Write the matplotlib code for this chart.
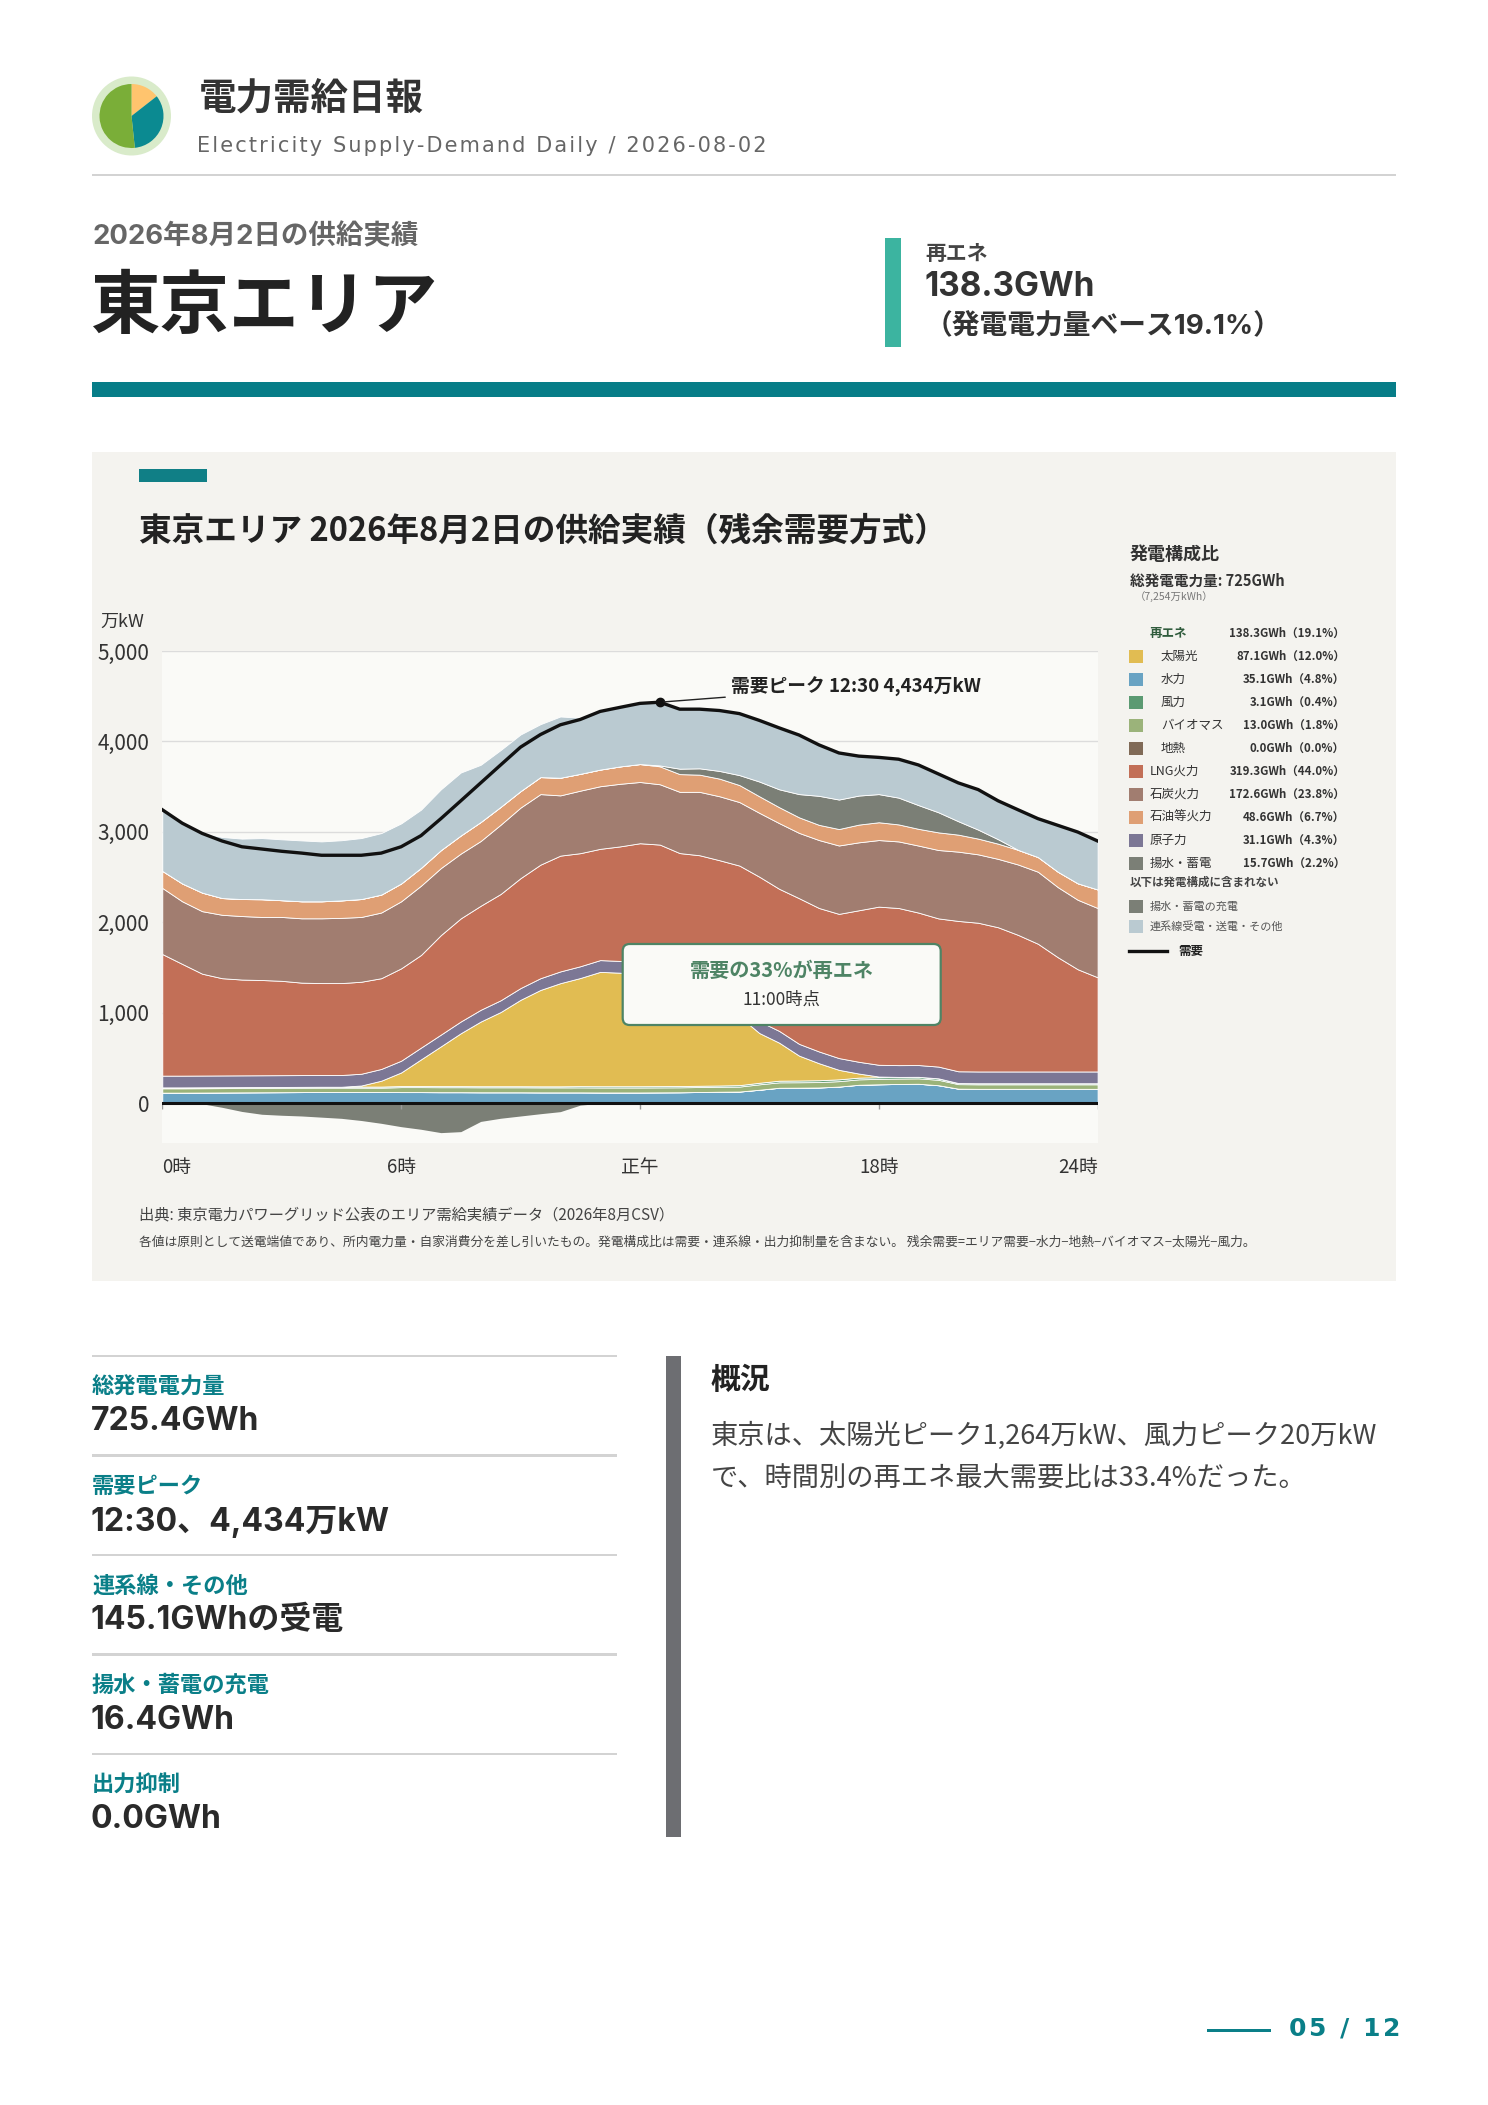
import numpy as np
import matplotlib
matplotlib.use("Agg")
import matplotlib.pyplot as plt
from matplotlib.patches import Rectangle, Wedge, Circle, FancyBboxPatch
from matplotlib.transforms import Affine2D
from matplotlib.lines import Line2D

plt.rcParams['font.family'] = ['Noto Sans CJK JP', 'DejaVu Sans']
LATIN_JP = ['Inter', 'Noto Sans CJK JP', 'DejaVu Sans']

# 30-minute slots, 0:00 .. 23:30 (万kW)
slots = np.arange(48)

demand = [3245, 3097, 2984, 2900, 2836, 2811, 2786, 2766, 2742, 2742,
          2742, 2766, 2836, 2959, 3147, 3344, 3542, 3740, 3937, 4076,
          4184, 4243, 4332, 4377, 4421, 4434, 4357, 4357, 4342, 4308,
          4233, 4150, 4071, 3962, 3873, 3838, 3824, 3804, 3740, 3641,
          3542, 3468, 3344, 3245, 3147, 3073, 2999, 2900]

hydro = [118, 118, 119, 120, 121, 122, 123, 124, 125, 125,
         125, 125, 124, 124, 123, 123, 122, 122, 122, 121,
         121, 121, 120, 120, 120, 121, 122, 125, 128, 130,
         150, 172, 173, 175, 185, 205, 210, 214, 216, 200,
         162, 160, 160, 160, 160, 160, 160, 160]

geothermal = [0, 0, 0, 0, 0, 0, 0, 0, 0, 0, 0, 0, 0, 0, 0, 0,
              0, 0, 0, 0, 0, 0, 0, 0, 0, 0, 0, 0, 0, 0, 0, 0,
              0, 0, 0, 0, 0, 0, 0, 0, 0, 0, 0, 0, 0, 0, 0, 0]

biomass = [48, 48, 48, 48, 48, 48, 48, 48, 48, 48,
           48, 48, 55, 55, 55, 55, 55, 55, 55, 55,
           55, 55, 55, 55, 55, 55, 55, 55, 55, 55,
           60, 60, 60, 60, 60, 60, 60, 60, 60, 60,
           50, 50, 50, 50, 50, 50, 50, 50]

wind = [10, 10, 10, 10, 10, 10, 10, 10, 10, 10,
        12, 12, 12, 12, 12, 12, 12, 12, 12, 12,
        12, 14, 14, 14, 14, 14, 14, 14, 14, 16,
        17, 18, 19, 20, 20, 19, 18, 18, 17, 16,
        12, 12, 12, 12, 12, 12, 12, 12]

solar = [0, 0, 0, 0, 0, 0, 0, 0, 0, 0,
         12, 65, 150, 295, 440, 585, 715, 820, 955, 1065,
         1140, 1195, 1264, 1255, 1240, 1210, 1160, 1080, 960, 760,
         550, 420, 275, 188, 105, 45, 8, 0, 0, 0,
         0, 0, 0, 0, 0, 0, 0, 0]

nuclear = [130, 130, 130, 130, 130, 130, 130, 130, 130, 130,
           130, 130, 130, 130, 130, 130, 130, 130, 130, 130,
           130, 130, 130, 130, 130, 130, 130, 130, 130, 130,
           130, 130, 130, 130, 130, 130, 130, 130, 130, 130,
           130, 130, 130, 130, 130, 130, 130, 130]

lng = [1344, 1235, 1126, 1075, 1059, 1053, 1043, 1022, 1016, 1016,
       1017, 1003, 1021, 1024, 1100, 1140, 1150, 1175, 1215, 1255,
       1280, 1250, 1230, 1266, 1316, 1330, 1285, 1338, 1400, 1537,
       1598, 1571, 1610, 1586, 1594, 1675, 1748, 1737, 1685, 1638,
       1662, 1644, 1594, 1510, 1412, 1263, 1130, 1041]

coal = [731, 692, 691, 701, 702, 697, 706, 711, 716, 721,
        716, 726, 741, 766, 741, 716, 716, 766, 780, 780,
        666, 691, 692, 692, 677, 667, 677, 701, 707, 702,
        706, 726, 722, 751, 756, 751, 736, 736, 741, 756,
        766, 756, 756, 778, 796, 775, 768, 766]

oil = [188, 197, 205, 185, 188, 196, 185, 188, 188, 193,
       198, 198, 197, 197, 198, 200, 210, 197, 182, 188,
       195, 186, 184, 192, 198, 198, 196, 190, 195, 188,
       183, 176, 172, 168, 182, 196, 197, 188, 185, 195,
       188, 174, 168, 162, 162, 170, 182, 205]

pumped = [0, 0, 0, 0, 0, 0, 0, 0, 0, 0, 0, 0, 0, 0, 0, 0,
          0, 0, 0, 0, 0, 0, 0, 0, 0, 10, 60, 70, 85, 110, 163, 198,
          257, 321, 326, 321, 311, 296, 262, 222, 148, 99, 49, 0, 0, 0, 0, 0]

interconnect = [676, 667, 660, 675, 668, 676, 673, 673, 662, 665,
                674, 680, 664, 643, 672, 696, 632, 628, 626, 585,
                677, 621, 643, 653, 671, 699, 658, 654, 668, 680,
                676, 679, 653, 563, 515, 436, 406, 425, 443, 423,
                420, 443, 425, 443, 425, 513, 567, 536]

charge = [0, 0, 5, 44, 90, 121, 132, 140, 153, 166, 190, 221, 258, 287, 324, 313,
          200, 165, 140, 115, 92, 20, 0, 0, 0, 0, 0, 0, 0, 0, 0, 0,
          0, 0, 0, 0, 0, 0, 0, 0, 0, 0, 0, 0, 0, 0, 0, 0]

layer_colors = ['#69A3C3', '#806A57', '#9BB37A', '#5B9A72', '#E1BC52', '#7C7795',
                '#C26F57', '#A17D70', '#DF9F74', '#7B7F76', '#BACAD1']
charge_color = '#7B7F76'

xtick_pos = [0, 12, 24, 36, 47]
xtick_labels = ['0時', '6時', '正午', '18時', '24時']
yticks = [0, 1000, 2000, 3000, 4000, 5000]

legend_names = ['太陽光', '水力', '風力', 'バイオマス', '地熱',
                'LNG火力', '石炭火力', '石油等火力', '原子力', '揚水・蓄電']
legend_gwh = [87.1, 35.1, 3.1, 13.0, 0.0, 319.3, 172.6, 48.6, 31.1, 15.7]
legend_colors = ['#E1BC52', '#69A3C3', '#5B9A72', '#9BB37A', '#806A57',
                 '#C26F57', '#A17D70', '#DF9F74', '#7C7795', '#7B7F76']
legend_sub = [True, True, True, True, True, False, False, False, False, False]
total_gwh = 725.4
renew_gwh = 138.3

stat_labels = ['総発電電力量', '需要ピーク', '連系線・その他', '揚水・蓄電の充電', '出力抑制']
stat_values = ['725.4GWh', '12:30、4,434万kW', '145.1GWhの受電', '16.4GWh', '0.0GWh']

summary = ['東京は、太陽光ピーク1,264万kW、風力ピーク20万kW',
           'で、時間別の再エネ最大需要比は33.4%だった。']

TEAL = '#0A7F88'

W, H = 1488, 2105
fig = plt.figure(figsize=(W / 100, H / 100), dpi=100, facecolor='white')
# page pixel coordinates, origin top-left
PX = Affine2D().scale(0.01).scale(1, -1).translate(0, H / 100) + fig.dpi_scale_trans


def text(x, y, s, size, color='#333333', bold=False, ha='left', va='center', z=3, **kw):
    fig.text(x, y, s, transform=PX, fontsize=size, color=color,
             fontweight='bold' if bold else 'normal', ha=ha, va=va, zorder=z, **kw)


def rect(x0, y0, x1, y1, color, z=1):
    fig.add_artist(Rectangle((x0, y0), x1 - x0, y1 - y0, transform=PX,
                             facecolor=color, edgecolor='none', zorder=z))


def spaced(s):
    # loose letter spacing with hair spaces
    return '\u200a'.join(s)


# ---- header ----
fig.add_artist(Circle((131.5, 116), 39.5, transform=PX, facecolor='#D9EBCA', edgecolor='none'))
fig.add_artist(Wedge((131.5, 116), 32, -90, -38, transform=PX, facecolor='#FFC46E', edgecolor='none'))
fig.add_artist(Wedge((131.5, 116), 32, -38, 84, transform=PX, facecolor='#0B8A91', edgecolor='none'))
fig.add_artist(Wedge((131.5, 116), 32, 84, 270, transform=PX, facecolor='#7AAE38', edgecolor='none'))
text(199, 98, '電力需給日報', 27, '#333333', bold=True)
text(197, 146, spaced('Electricity Supply-Demand Daily / 2026-08-02'), 15, '#666666',
     family='DejaVu Sans')
rect(92, 173.5, 1396, 176, '#D3D3D3')

text(92, 237, '2026年8月2日の供給実績', 19.8, '#666666', bold=True, family=LATIN_JP)
text(90, 308, '東京エリア', 50, '#222222', bold=True)
rect(885, 238, 901, 347, '#3CB4A0')
text(925, 254, '再エネ', 15, '#444444', bold=True)
text(925, 287, f'{renew_gwh}GWh', 24, '#333333', bold=True, family=LATIN_JP)
text(925, 327, f'（発電電力量ベース{renew_gwh / total_gwh * 100:.1f}%）', 20, '#333333', bold=True,
     family=LATIN_JP)
rect(92, 382, 1396, 397, '#077D88')

# ---- chart panel ----
rect(92, 452, 1396, 1281, '#F4F3EF', z=-1)
rect(139, 469, 207, 482, '#107F86')
text(139, 531, '東京エリア 2026年8月2日の供給実績（残余需要方式）', 23.5, '#222222', bold=True)
text(100, 622, '万kW', 13, '#333333')

ax = fig.add_axes([162.3 / W, 1 - 1143.3 / H, 935.3 / W, 492.3 / H])
ax.set_facecolor('#FAFAF7')
layers = [hydro, geothermal, biomass, wind, solar, nuclear, lng, coal, oil, pumped, interconnect]
ax.stackplot(slots, *layers, colors=layer_colors, edgecolor='white', linewidth=0.6, zorder=2)
ax.fill_between(slots, 0, -np.array(charge), color=charge_color, lw=0, zorder=2)
ax.axhline(0, color='#111111', lw=2.2, zorder=4)
ax.plot(slots, demand, color='#111111', lw=2.4, zorder=5)
ax.vlines(xtick_pos, -66, 0, color='#9A9A9A', lw=1, zorder=3)

peak_i = int(np.argmax(demand))
ax.plot(peak_i, demand[peak_i], 'o', color='#111111', ms=6, zorder=6)
ax.annotate(f'需要ピーク {peak_i // 2}:{(peak_i % 2) * 30:02d} {demand[peak_i]:,}万kW',
            xy=(peak_i, demand[peak_i]), xytext=(71, 15), textcoords='offset pixels',
            ha='left', va='center', fontsize=13.5, fontweight='bold', color='#222222',
            arrowprops=dict(arrowstyle='-', color='#222222', lw=1, shrinkA=2, shrinkB=3), zorder=7)

ax.set_xlim(0, 47)
ax.set_ylim(-442, 5000)
ax.set_yticks(yticks)
ax.set_yticklabels([f'{v:,}' for v in yticks])
ax.yaxis.grid(True, color='#DCDCDC', lw=1)
ax.set_axisbelow(True)
ax.set_xticks(xtick_pos)
ax.set_xticklabels(xtick_labels)
ax.tick_params(axis='y', length=0, pad=9.5, labelsize=15, labelcolor='#333333')
ax.tick_params(axis='x', length=0, pad=10, labelsize=13.5, labelcolor='#333333')
xl = ax.get_xticklabels()
xl[0].set_ha('left')
xl[-1].set_ha('right')
for s in ax.spines.values():
    s.set_visible(False)

# renewable share callout
fig.add_artist(FancyBboxPatch((622.7, 944), 318, 81, boxstyle='round,pad=0,rounding_size=7',
                              transform=PX, facecolor='#FAFAF7', edgecolor='#4E8465', lw=1.6, zorder=8))
text(782, 970, '需要の33%が再エネ', 14.5, '#4E8465', bold=True, ha='center', z=9)
text(782, 999.5, '11:00時点', 12.5, '#333333', ha='center', z=9)

# legend
text(1130, 554, '発電構成比', 13, '#333333', bold=True)
text(1130, 581, f'総発電電力量: {total_gwh:.0f}GWh', 10.5, '#333333', bold=True)
text(1135, 597, f'（{total_gwh * 10:,.0f}万kWh）', 7.5, '#777777')
text(1150, 633, '再エネ', 9, '#2F5B3C', bold=True)
text(1345, 633, f'{renew_gwh}GWh（{renew_gwh / total_gwh * 100:.1f}%）', 8.3, '#333333', bold=True, ha='right')
for i, (name, g, c, sub) in enumerate(zip(legend_names, legend_gwh, legend_colors, legend_sub)):
    yy = 656 + 23 * i
    rect(1129, yy - 6.5, 1143, yy + 6.5, c, z=2)
    text(1161 if sub else 1150, yy, name, 9, '#333333')
    text(1345, yy, f'{g:.1f}GWh（{g / total_gwh * 100:.1f}%）', 8.3, '#333333', bold=True, ha='right')
text(1130, 882, '以下は発電構成に含まれない', 8.3, '#444444', bold=True)
rect(1129, 900, 1143, 913, charge_color, z=2)
text(1150, 907, '揚水・蓄電の充電', 8, '#555555')
rect(1129, 919.5, 1143, 932.5, layer_colors[-1], z=2)
text(1150, 926, '連系線受電・送電・その他', 8, '#555555')
fig.add_artist(Line2D([1129, 1167], [951, 951], transform=PX, color='#111111', lw=2.4))
text(1178, 951, '需要', 9, '#222222', bold=True)

text(139, 1215, '出典: 東京電力パワーグリッド公表のエリア需給実績データ（2026年8月CSV）', 11, '#444444')
text(139, 1242, '各値は原則として送電端値であり、所内電力量・自家消費分を差し引いたもの。'
     '発電構成比は需要・連系線・出力抑制量を含まない。 '
     '残余需要=エリア需要−水力−地熱−バイオマス−太陽光−風力。', 9.2, '#444444')

# ---- stats ----
for i, (lab, val) in enumerate(zip(stat_labels, stat_values)):
    y0 = 1356 + 99.5 * i
    rect(92, y0 - 1.2, 617, y0 + 1.2, '#D3D3D3')
    text(92, y0 + 31, lab, 16, TEAL, bold=True)
    text(91, y0 + 66, val, 23, '#2A2A2A', bold=True, family=LATIN_JP)

rect(666, 1356, 681, 1837, '#6D6E72')
text(711, 1380, '概況', 21.5, '#222222', bold=True)
for i, line in enumerate(summary):
    text(711, 1436 + 43 * i, line, 19.6, '#444444')

# page number
rect(1207, 2028.5, 1271, 2031.5, TEAL)
text(1289, 2028, spaced('05 / 12'), 18, TEAL, bold=True, family='DejaVu Sans')

fig.savefig('out.png', dpi=100, facecolor='white')
